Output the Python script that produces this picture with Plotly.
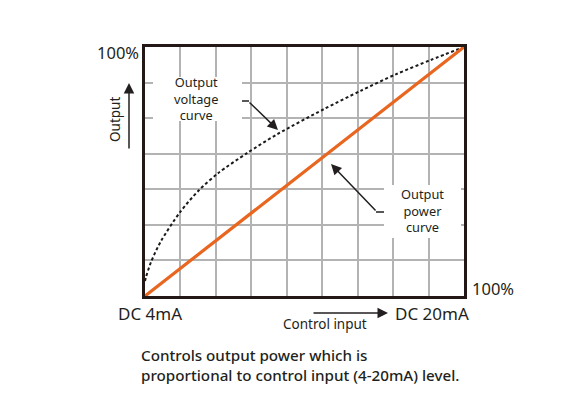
import plotly.graph_objects as go

# ---- data (percent of full scale) ----
power_x = [0, 100]
power_y = [0, 100]
voltage_x = [0, 0.3, 2, 5, 11, 17, 23, 32, 41.5, 56, 67.6, 78.6, 89.6, 100]
voltage_y = [6, 7.6, 14, 22, 33.7, 42.6, 49.4, 57.4, 65, 75, 82.4, 89, 94.8, 100]
x_tick_labels = ["DC 4mA", "DC 20mA"]
y_tick_label = "100%"
x_label = "Control input"
y_label = "Output"
voltage_label = ["Output", "voltage", "curve"]
power_label = ["Output", "power", "curve"]
caption = ["Controls output power which is",
           "proportional to control input (4-20mA) level."]

W, H = 580, 397
L, R, T, B = 145, 464, 47, 296
TXT = "#231f20"
FONT = "Noto Sans"


def px(x):
    return (x - L) / (R - L)


def py(y):
    return (B - y) / (B - T)


fig = go.Figure()
fig.add_trace(go.Scatter(x=voltage_x, y=voltage_y, mode="lines",
                         line=dict(color="#1a1a1a", width=2, dash="3px,2.5px", shape="spline",
                                   smoothing=0.8),
                         hoverinfo="skip"))
fig.add_trace(go.Scatter(x=power_x, y=power_y, mode="lines",
                         line=dict(color="#e8661f", width=3.2),
                         hoverinfo="skip"))

ann = []


def box(x0, y0, x1, y1):
    ann.append(dict(x=px((x0 + x1) / 2), y=py((y0 + y1) / 2), xref="paper", yref="paper",
                    text=" ", showarrow=False, width=x1 - x0, height=y1 - y0,
                    bgcolor="white", borderpad=0, borderwidth=0,
                    xanchor="center", yanchor="middle"))


def text(x, y, s, size, xanchor="center", yanchor="middle", angle=0, weight=None, align="center"):
    f = dict(family=FONT, size=size, color=TXT)
    if weight:
        f["weight"] = weight
    ann.append(dict(x=px(x), y=py(y), xref="paper", yref="paper", text=s, showarrow=False,
                    xanchor=xanchor, yanchor=yanchor, textangle=angle, font=f, align=align))


def arrow(tx, ty, sx, sy, width=1.5, size=1.4):
    ann.append(dict(x=px(tx), y=py(ty), xref="paper", yref="paper", text="",
                    showarrow=True, ax=sx - tx, ay=sy - ty, arrowhead=2,
                    arrowsize=size, arrowwidth=width, arrowcolor=TXT))


# white label backgrounds
box(153, 77, 242, 121)
box(384, 185, 461, 238)

# axis labels
text(141, 53, y_tick_label, 16.5, xanchor="right")
text(470, 288, y_tick_label, 16.5, xanchor="left")
text(150, 313, x_tick_labels[0], 17)
text(432, 313, x_tick_labels[1], 17)
text(325, 324, x_label, 13.5)
text(115, 120, y_label, 13.5, angle=-90)
arrow(129, 83, 129, 150)
arrow(388, 313, 312, 313)

# curve labels
text(196, 98, "<br>".join(voltage_label), 12.8)
text(422, 210.5, "<br>".join(power_label), 12.8)
arrow(278, 130, 248, 101)
arrow(331, 164, 377, 212)

# caption
text(139, 365, "<br>".join(caption), 15.2, xanchor="left", weight=500, align="left")

shapes = [
    dict(type="line", xref="paper", yref="paper", x0=px(242), x1=px(249), y0=py(101), y1=py(101),
         line=dict(color=TXT, width=1.5)),
    dict(type="line", xref="paper", yref="paper", x0=px(376), x1=px(384), y0=py(212), y1=py(212),
         line=dict(color=TXT, width=1.5)),
]

axis_common = dict(showgrid=True, gridcolor="#b3b3b3", gridwidth=2, showline=True,
                   linecolor="#231815", linewidth=3, mirror=True, showticklabels=False,
                   ticks="", zeroline=False, fixedrange=True)

fig.update_layout(
    width=W, height=H,
    margin=dict(l=L, r=W - R, t=T, b=H - B, pad=0),
    paper_bgcolor="white", plot_bgcolor="white",
    showlegend=False,
    xaxis=dict(range=[0, 100], tick0=0, dtick=100 / 9, **axis_common),
    yaxis=dict(range=[0, 100], tick0=0, dtick=100 / 7, **axis_common),
    annotations=ann,
    shapes=shapes,
)

fig.write_html("out.html", config={"displayModeBar": False},
               post_script="document.body.style.margin='0px';")
